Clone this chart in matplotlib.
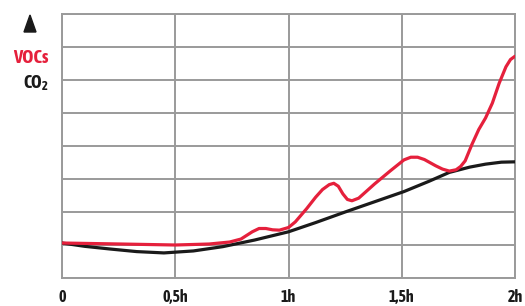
import matplotlib
matplotlib.use("Agg")
import matplotlib.pyplot as plt
from matplotlib.patches import Polygon

# hours
voc_t = [0.0, 0.26, 0.50, 0.65, 0.74, 0.79, 0.84, 0.87, 0.90, 0.93, 0.96, 1.00, 1.03,
         1.08, 1.12, 1.15, 1.18, 1.20, 1.22, 1.24, 1.26, 1.28, 1.31, 1.38, 1.45, 1.51,
         1.54, 1.57, 1.60, 1.65, 1.68, 1.71, 1.74, 1.76, 1.78, 1.81, 1.84, 1.87, 1.90,
         1.93, 1.96, 1.98, 2.0]
voc_v = [1.06, 1.03, 1.00, 1.03, 1.09, 1.18, 1.40, 1.50, 1.50, 1.46, 1.45, 1.53, 1.70,
         2.10, 2.45, 2.68, 2.83, 2.87, 2.78, 2.55, 2.38, 2.34, 2.42, 2.85, 3.25, 3.58,
         3.66, 3.66, 3.59, 3.40, 3.30, 3.24, 3.28, 3.38, 3.55, 4.05, 4.50, 4.85, 5.30,
         5.90, 6.40, 6.62, 6.72]

co2_t = [0.0, 0.10, 0.21, 0.33, 0.45, 0.58, 0.71, 0.85, 1.00, 1.12, 1.25, 1.38,
         1.51, 1.62, 1.71, 1.80, 1.87, 1.94, 2.0]
co2_v = [1.06, 0.96, 0.88, 0.80, 0.76, 0.82, 0.95, 1.15, 1.40, 1.68, 2.00, 2.31,
         2.62, 2.93, 3.20, 3.36, 3.45, 3.51, 3.52]

x_ticks = [0, 0.5, 1, 1.5, 2]
x_labels = ["0", "0,5h", "1h", "1,5h", "2h"]

red = "#e5203c"
dark = "#1a1a1a"
grid = "#9a9a9a"
font = ["Asap Condensed", "DejaVu Sans"]

fig = plt.figure(figsize=(5.25, 3.06), dpi=100)
ax = fig.add_axes([62 / 525, 28 / 306, 453 / 525, 264 / 306])

ax.plot(co2_t, co2_v, color=dark, lw=2.3, solid_capstyle="round", solid_joinstyle="round", zorder=3)
ax.plot(voc_t, voc_v, color=red, lw=2.3, solid_capstyle="round", solid_joinstyle="round", zorder=4)

ax.set_xlim(0, 2)
ax.set_ylim(0, 8)
ax.set_xticks(x_ticks)
ax.set_yticks(range(9))
ax.grid(True, color=grid, lw=1.4)
ax.tick_params(length=0, labelleft=False, pad=8)
ax.set_xticklabels(x_labels, fontsize=11.5, fontweight="bold", color=dark, family=font)
for s in ax.spines.values():
    s.set_color(grid)
    s.set_linewidth(1.4)

# little arrow head and axis legend at top left
tri = Polygon([[24 / 525, 1 - 32 / 306], [36 / 525, 1 - 32 / 306], [30 / 525, 1 - 15 / 306]],
              closed=True, transform=fig.transFigure, color=dark)
fig.add_artist(tri)
fig.text(49 / 525, 1 - 58 / 306, "VOCs", color=red, fontsize=13.5, fontweight="bold",
         ha="right", va="center", family=font)
fig.text(42 / 525, 1 - 83 / 306, "CO", color=dark, fontsize=13, fontweight="bold",
         ha="right", va="center", family=font)
fig.text(42 / 525, 1 - 87 / 306, "2", color=dark, fontsize=9, fontweight="bold",
         ha="left", va="center", family=font)

fig.savefig("out.png", dpi=100)
